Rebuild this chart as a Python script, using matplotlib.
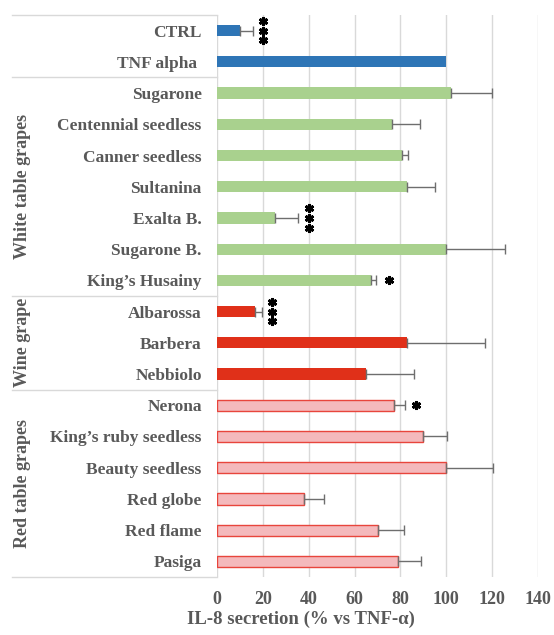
import matplotlib
matplotlib.use("Agg")
import matplotlib.pyplot as plt
import matplotlib.transforms as mtransforms

# data (IL-8 secretion, % vs TNF-alpha)
labels = ["CTRL", "TNF alpha ", "Sugarone", "Centennial seedless", "Canner seedless",
          "Sultanina", "Exalta B.", "Sugarone B.", "King\u2019s Husainy",
          "Albarossa", "Barbera", "Nebbiolo",
          "Nerona", "King\u2019s ruby seedless", "Beauty seedless", "Red globe",
          "Red flame", "Pasiga"]
values = [10, 100, 102, 76.5, 80.5, 83, 25.5, 100, 67,
          16.5, 83, 65,
          77, 90, 100, 38, 70, 79]
errors = [5.5, 0, 18, 12, 3, 12, 10, 25.5, 2.5,
          3, 34, 21,
          5, 10.5, 20.5, 8.5, 11.5, 10]
groups = ["ctrl"] * 2 + ["white"] * 7 + ["wine"] * 3 + ["red"] * 6

# significance marks: row index, x position, number of stars
sig_rows = [0, 6, 8, 9, 12]
sig_x = [20, 40, 75, 24, 87]
sig_count = [3, 3, 1, 3, 1]

# group label blocks
group_names = ["White table grapes", "Wine grape", "Red table grapes"]
group_first = [2, 9, 12]
group_last = [8, 11, 17]

fill = {"ctrl": "#2E75B6", "white": "#A9D18E", "wine": "#E03019", "red": "#F4B9BC"}
edge = {"ctrl": "#2E75B6", "white": "#A9D18E", "wine": "#E03019", "red": "#E8453C"}

TEXT = "#595959"
GRID = "#D9D9D9"
plt.rcParams["font.family"] = ["Liberation Serif", "DejaVu Serif"]
plt.rcParams["font.weight"] = "bold"

fig = plt.figure(figsize=(5.54, 6.35), dpi=100)
ax = fig.add_axes([217 / 554, 58 / 635, 321 / 554, 562 / 635])

rows = list(range(len(labels)))
for i, (v, e, g) in enumerate(zip(values, errors, groups)):
    ax.barh(i, v, height=0.36, color=fill[g], edgecolor=edge[g],
            linewidth=1.0 if g == "red" else 0, zorder=3)
    if e > 0:
        ax.errorbar(v, i, xerr=[[0], [e]], fmt="none", ecolor="#6E6E6E",
                    elinewidth=1.0, capsize=3.5, capthick=1.0, zorder=4)

# stars drawn as asterisk markers, stacked vertically for ***
for r, x, n in zip(sig_rows, sig_x, sig_count):
    offs = [-0.31, 0, 0.31] if n == 3 else [0]
    ax.plot([x] * len(offs), [r + o for o in offs], linestyle="none",
            marker=(6, 2, 0), markersize=6.5, markeredgewidth=2.0,
            color="black", zorder=5, clip_on=False)

ax.set_xlim(0, 140)
ax.set_ylim(len(labels) - 0.5, -0.5)
ax.set_xticks(range(0, 141, 20))
ax.set_yticks(rows)
ax.set_yticklabels(labels)
ax.tick_params(axis="y", length=0, pad=11, labelsize=12.5, labelcolor=TEXT)
ax.tick_params(axis="x", length=0, pad=10, labelsize=13, labelcolor=TEXT)
ax.xaxis.grid(True, color=GRID, linewidth=1.0, zorder=0)
for s in ax.spines.values():
    s.set_visible(False)

# x label sits a little left of the plot-area centre in the reference
fig.text(301 / 554, 1 - 619 / 635, "IL-8 secretion (% vs TNF-\u03b1)", fontsize=13.5,
         fontweight="bold", color=TEXT, ha="center", va="center")

# table-like separators on the left side
trans = mtransforms.blended_transform_factory(ax.transAxes, ax.transData)
left_edge = -205 / 321
for yb in [-0.5, 1.5, 8.5, 11.5, len(labels) - 0.5]:
    ax.plot([left_edge, 0], [yb, yb], color=GRID, linewidth=1.0,
            transform=trans, clip_on=False)

for name, a, b in zip(group_names, group_first, group_last):
    ax.text(-194 / 321, (a + b) / 2, name, rotation=90, ha="center", va="center",
            fontsize=13, fontweight="bold", color=TEXT, transform=trans)

fig.savefig("out.png", dpi=100)
plt.close(fig)
